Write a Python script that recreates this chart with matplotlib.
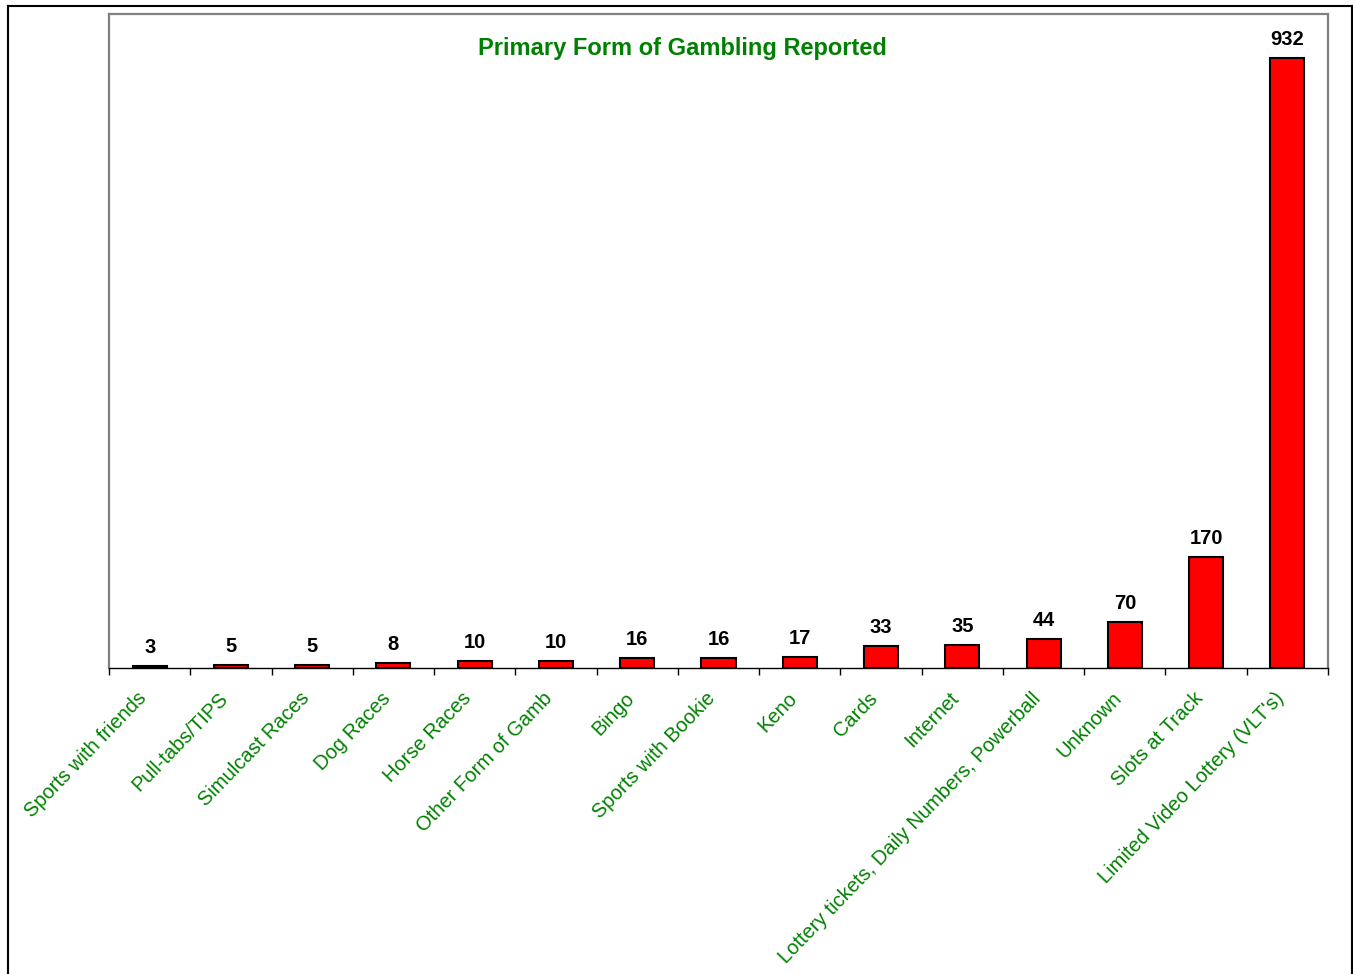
import matplotlib
matplotlib.use("Agg")
import matplotlib.pyplot as plt
import matplotlib.transforms as mtransforms
from matplotlib.lines import Line2D

CATEGORIES = [
    "Sports with friends", "Pull-tabs/TIPS", "Simulcast Races", "Dog Races",
    "Horse Races", "Other Form of Gamb", "Bingo", "Sports with Bookie", "Keno",
    "Cards", "Internet", "Lottery tickets, Daily Numbers, Powerball", "Unknown",
    "Slots at Track", "Limited Video Lottery (VLT's)",
]
COUNTS = [3, 5, 5, 8, 10, 10, 16, 16, 17, 33, 35, 44, 70, 170, 932]

GREEN = "#008000"
W, H = 1353, 974

plt.rcParams["font.family"] = ["Liberation Sans", "DejaVu Sans"]

fig = plt.figure(figsize=(W / 100, H / 100), dpi=100)
ax = fig.add_axes([109 / W, 1 - 668 / H, (1328 - 109) / W, (668 - 14) / H])

x = list(range(len(COUNTS)))
bars = ax.bar(x, COUNTS, width=0.42, color="#ff0000", edgecolor="black", linewidth=1.5)
for b, v in zip(bars, COUNTS):
    ax.annotate(f"{v}", (b.get_x() + b.get_width() / 2, v), xytext=(0, 6.5),
                textcoords="offset points", ha="center", va="bottom",
                fontsize=14.5, fontweight="bold", color="black")

ax.set_xlim(-0.5, len(COUNTS) - 0.5)
ax.set_ylim(0, 1000)
ax.set_yticks([])

# category labels at bar centres, tick marks on the boundaries
ax.set_xticks(x)
ax.set_xticklabels(CATEGORIES, rotation=46, ha="right", va="top",
                   rotation_mode="anchor", fontsize=14.5, color=GREEN)
ax.tick_params(axis="x", which="major", length=0, pad=15)
shift = mtransforms.ScaledTranslation(-13 / 100, 0, fig.dpi_scale_trans)
for lbl in ax.get_xticklabels():
    lbl.set_transform(lbl.get_transform() + shift)
ax.set_xticks([i - 0.5 for i in range(len(COUNTS) + 1)], minor=True)
ax.tick_params(axis="x", which="minor", length=5, width=1, color="black", direction="out")

for side in ("top", "left", "right"):
    ax.spines[side].set_color("#808080")
    ax.spines[side].set_linewidth(1.6)
ax.spines["bottom"].set_color("black")
ax.spines["bottom"].set_linewidth(1.0)

fig.text(682 / W, 1 - 48 / H, "Primary Form of Gambling Reported", ha="center",
         va="center", fontsize=17, fontweight="bold", color=GREEN)

# outer frame (bottom edge runs off the page)
frame = [([7.5, 7.5], [0, H - 5.5]), ([7.5, 1351.5], [H - 5.5, H - 5.5]),
         ([1351.5, 1351.5], [H - 5.5, 0])]
for xs, ys in frame:
    fig.add_artist(Line2D([v / W for v in xs], [v / H for v in ys],
                          transform=fig.transFigure, color="black", linewidth=1.5))

fig.savefig("out.png", dpi=100)
